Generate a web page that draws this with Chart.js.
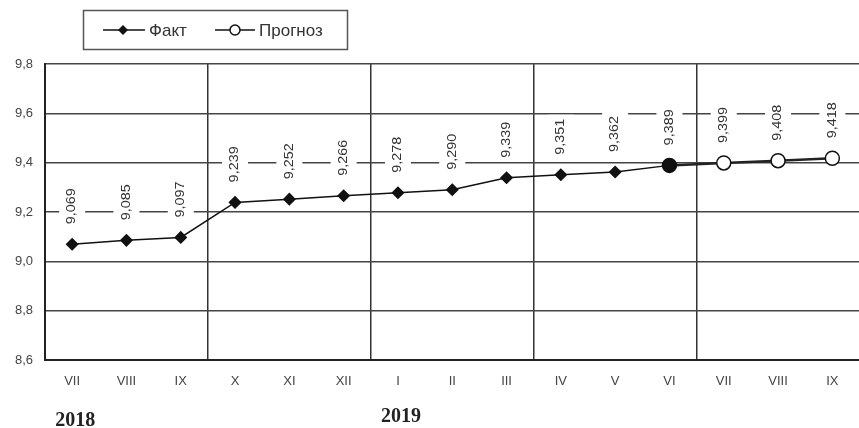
<!DOCTYPE html>
<html>
<head>
<meta charset="utf-8">
<script src="https://cdn.jsdelivr.net/npm/chart.js@4/dist/chart.umd.min.js"></script>
<style>
  html, body { margin: 0; padding: 0; background: #fff; overflow: hidden; }
  #wrap { width: 868px; height: 428px; position: relative; }
</style>
</head>
<body>
<div id="wrap"><canvas id="lineChart"></canvas></div>
<script>
const months = ["VII", "VIII", "IX", "X", "XI", "XII", "I", "II", "III", "IV", "V", "VI", "VII", "VIII", "IX"];
const fact = [9.069, 9.085, 9.097, 9.239, 9.252, 9.266, 9.278, 9.290, 9.339, 9.351, 9.362, 9.389, null, null, null];
const forecast = [null, null, null, null, null, null, null, null, null, null, null, 9.389, 9.399, 9.408, 9.418];
const years = ["2018", "2019"];
const yearAt = [0, 6];
const quarterStarts = [3, 6, 9, 12];
const legendNames = ["Факт", "Прогноз"];

const fmt = (v, d) => v.toFixed(d).replace(".", ",");

// vertical value labels with white box, drawn under the lines
const valueLabels = {
  id: "valueLabels",
  beforeDatasetsDraw(chart) {
    const ctx = chart.ctx;
    const x = chart.scales.x, y = chart.scales.y;
    const stretch = 1.2;
    ctx.save();
    ctx.font = "12px 'Liberation Sans', Arial, sans-serif";
    ctx.textBaseline = "middle";
    ctx.textAlign = "left";
    months.forEach((m, i) => {
      let v = fact[i] != null ? fact[i] : forecast[i];
      if (v == null) return;
      const px = x.getPixelForValue(i);
      const py = y.getPixelForValue(v) - 20;
      const txt = fmt(v, 3);
      const w = ctx.measureText(txt).width * stretch;
      ctx.fillStyle = "#fff";
      ctx.fillRect(px - 13, py - w - 4, 26, w + 8);
      ctx.translate(px, py);
      ctx.rotate(-Math.PI / 2);
      ctx.scale(stretch, 1);
      ctx.fillStyle = "#333";
      ctx.fillText(txt, 0, 0);
      ctx.setTransform(1, 0, 0, 1, 0, 0);
    });
    ctx.restore();
  },
  afterDraw(chart) {
    const ctx = chart.ctx;
    const x = chart.scales.x;
    ctx.save();
    // years
    ctx.fillStyle = "#222";
    ctx.font = "bold 20px 'Liberation Serif', 'DejaVu Serif', serif";
    ctx.textAlign = "center";
    ctx.textBaseline = "alphabetic";
    years.forEach((yr, k) => {
      ctx.fillText(yr, x.getPixelForValue(yearAt[k]) + 3, k === 0 ? 426 : 422);
    });
    // legend box
    ctx.strokeStyle = "#555";
    ctx.lineWidth = 1.5;
    ctx.strokeRect(83.5, 10.5, 264, 39);
    ctx.strokeStyle = "#111";
    ctx.lineWidth = 1.5;
    ctx.beginPath(); ctx.moveTo(103, 30); ctx.lineTo(145, 30); ctx.stroke();
    ctx.beginPath(); ctx.moveTo(215, 30); ctx.lineTo(255, 30); ctx.stroke();
    ctx.fillStyle = "#111";
    ctx.beginPath();
    ctx.moveTo(123, 25); ctx.lineTo(128, 30); ctx.lineTo(123, 35); ctx.lineTo(118, 30);
    ctx.closePath(); ctx.fill();
    ctx.fillStyle = "#fff";
    ctx.beginPath(); ctx.arc(235, 30, 5, 0, Math.PI * 2); ctx.fill(); ctx.stroke();
    ctx.fillStyle = "#333";
    ctx.font = "17px 'Liberation Sans', Arial, sans-serif";
    ctx.textAlign = "left";
    ctx.textBaseline = "middle";
    ctx.fillText(legendNames[0], 149, 31);
    ctx.fillText(legendNames[1], 259, 31);
    ctx.restore();
  }
};

new Chart(document.getElementById("lineChart"), {
  type: "line",
  data: {
    labels: months,
    datasets: [
      {
        label: legendNames[0],
        data: fact,
        borderColor: "#111",
        borderWidth: 1.5,
        pointStyle: "rectRot",
        pointRadius: 5.5,
        pointBackgroundColor: "#111",
        pointBorderColor: "#111",
        tension: 0
      },
      {
        label: legendNames[1],
        data: forecast,
        borderColor: "#222",
        borderWidth: 2.5,
        pointStyle: "circle",
        pointRadius: 7,
        pointBorderWidth: 1.5,
        pointBackgroundColor: forecast.map((v, i) => (i === 11 ? "#111" : "#fff")),
        pointBorderColor: "#111",
        tension: 0
      }
    ]
  },
  options: {
    responsive: true,
    maintainAspectRatio: false,
    animation: false,
    layout: { padding: { top: 64, left: 0, right: 0, bottom: 0 } },
    plugins: { legend: { display: false }, tooltip: { enabled: false } },
    scales: {
      x: {
        offset: true,
        afterFit: (s) => { s.height = 68; },
        border: { color: "#222", width: 2 },
        grid: {
          offset: true,
          drawTicks: false,
          lineWidth: 1.5,
          color: (c) => (quarterStarts.includes(c.index) ? "#333" : "rgba(0,0,0,0)")
        },
        ticks: {
          padding: 14,
          color: "#444",
          font: { family: "'Liberation Sans', Arial, sans-serif", size: 13 },
          maxRotation: 0,
          autoSkip: false
        }
      },
      y: {
        min: 8.6,
        max: 9.8,
        afterFit: (s) => { s.width = 45; },
        border: { color: "#222", width: 2 },
        grid: { drawTicks: false, lineWidth: 1.5, color: "#444" },
        ticks: {
          stepSize: 0.2,
          padding: 12,
          color: "#444",
          font: { family: "'Liberation Sans', Arial, sans-serif", size: 13 },
          callback: (v) => fmt(v, 1)
        }
      }
    }
  },
  plugins: [valueLabels]
});
</script>
</body>
</html>
